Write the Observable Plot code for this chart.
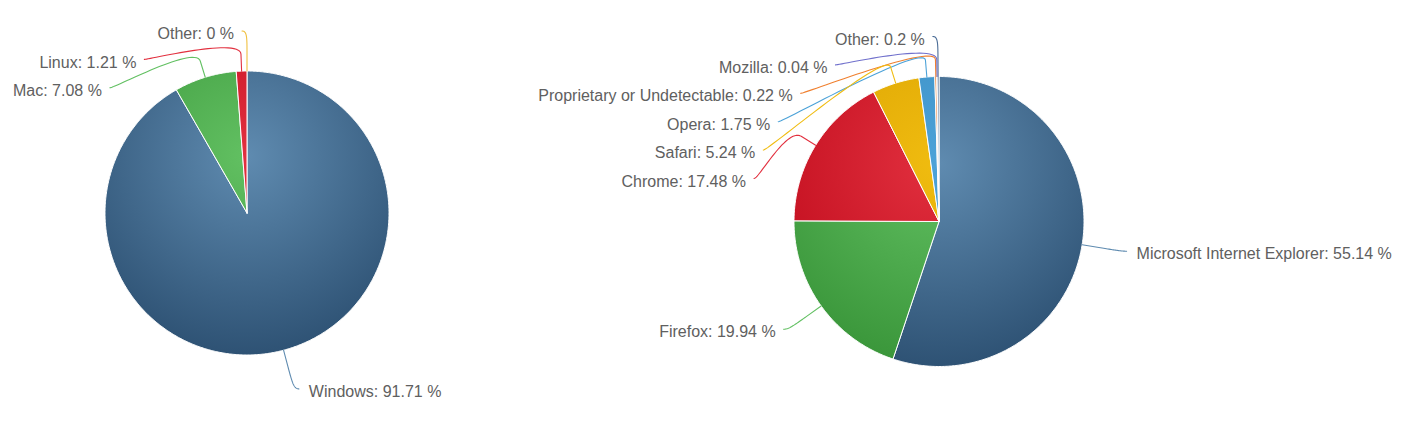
<!DOCTYPE html>
<html>
<head>
<meta charset="utf-8">
<script src="https://cdn.jsdelivr.net/npm/d3@7"></script>
<script src="https://cdn.jsdelivr.net/npm/@observablehq/plot@0.6"></script>
<style>
  html, body { margin: 0; padding: 0; background: #ffffff; }
</style>
</head>
<body>
<div id="chart"></div>
<script>
// ---- data ----
const osNames = ["Windows", "Mac", "Linux", "Other"];
const osShares = [91.71, 7.08, 1.21, 0];

const browserNames = ["Microsoft Internet Explorer", "Firefox", "Chrome", "Safari", "Opera",
  "Proprietary or Undetectable", "Mozilla", "Other"];
const browserShares = [55.14, 19.94, 17.48, 5.24, 1.75, 0.22, 0.04, 0.2];

// ---- styles ----
const osLight = ["#5f8bb0", "#62c062", "#e2303f", "#f0c040"];
const osDark = ["#2e5274", "#3a963a", "#c00c1c", "#d9a000"];
const browserLight = ["#5f8bb0", "#62c062", "#e2303f", "#f0bc10", "#4ca2d8", "#f08030", "#7070cc", "#4a6c96"];
const browserDark = ["#2e5274", "#3a963a", "#c00c1c", "#d9a000", "#3a8cc0", "#d86a1c", "#5858b0", "#2d4a70"];

const W = 1402, H = 423;
const pies = [
  {names: osNames, values: osShares, light: osLight, dark: osDark, cx: 246.5, cy: 212.5, r: 142},
  {names: browserNames, values: browserShares, light: browserLight, dark: browserDark, cx: 938.5, cy: 221, r: 145}
];

const slicePts = [], connPts = [], labelsL = [], labelsR = [], grads = [];
const slotH = 28.4, labelDist = 40, breakOff = 17;

pies.forEach((p, pi) => {
  const arcs = d3.pie().sort(null).value(d => d)(p.values);
  const R = p.r + labelDist;
  // slices
  arcs.forEach((a, i) => {
    const id = `s${pi}-${i}`;
    grads.push({id: "g" + id, c0: p.light[i], c1: p.dark[i], cx: p.cx, cy: p.cy - 0.4 * p.r, r: 1.4 * p.r});
    if (a.endAngle - a.startAngle <= 0) return;
    const fill = `url(#g${id})`;
    const n = Math.max(2, Math.ceil((a.endAngle - a.startAngle) / 0.01));
    slicePts.push({id, x: p.cx, y: p.cy, fill});
    for (let k = 0; k <= n; k++) {
      const t = a.startAngle + (a.endAngle - a.startAngle) * k / n - Math.PI / 2;
      slicePts.push({id, x: p.cx + p.r * Math.cos(t), y: p.cy + p.r * Math.sin(t), fill});
    }
    slicePts.push({id, x: p.cx, y: p.cy, fill});
  });
  // labels
  const items = arcs.map((a, i) => {
    const mid = (a.startAngle + a.endAngle) / 2;
    const th = mid - Math.PI / 2;
    return {i, th, left: mid > Math.PI, ny: p.cy + R * Math.sin(th)};
  });
  for (const left of [true, false]) {
    const half = items.filter(d => d.left === left).sort((a, b) => a.ny - b.ny);
    let prev = -Infinity;
    const top = p.cy - R;
    half.forEach((d, k) => {
      const y = Math.max(d.ny, top, prev + slotH);
      prev = y;
      const yy = k === 0 ? d.ny : y;
      const q = Math.max(-1, Math.min(1, (yy - p.cy) / R));
      const dx = Math.cos(Math.asin(q)) * R;
      const x = p.cx + (left ? -dx : dx);
      const sx = x + (left ? -5 : 5);
      const ex = p.cx + p.r * Math.cos(d.th), ey = p.cy + p.r * Math.sin(d.th);
      const bx = p.cx + (p.r + breakOff) * Math.cos(d.th), by = p.cy + (p.r + breakOff) * Math.sin(d.th);
      const c2x = 2 * bx - ex, c2y = 2 * by - ey;
      const cid = `c${pi}-${d.i}`;
      const col = p.light[d.i];
      const N = 30;
      for (let k2 = 0; k2 <= N; k2++) {
        const t = k2 / N, u = 1 - t;
        const px = u*u*u*sx + 3*u*u*t*x + 3*u*t*t*c2x + t*t*t*bx;
        const py = u*u*u*y + 3*u*u*t*y + 3*u*t*t*c2y + t*t*t*by;
        connPts.push({id: cid, x: px, y: py, stroke: col});
      }
      connPts.push({id: cid, x: ex, y: ey, stroke: col});
      const text = `${p.names[d.i]}: ${p.values[d.i]} %`;
      if (left) labelsL.push({x: sx - 8, y, text});
      else labelsR.push({x: sx + 10, y, text});
    });
  }
});

const font = "Liberation Sans, Arial, Helvetica, sans-serif";
const svg = Plot.plot({
  width: W,
  height: H,
  margin: 0,
  x: {domain: [0, W], range: [0, W], axis: null},
  y: {domain: [0, H], range: [0, H], axis: null},
  color: {type: "identity"},
  style: {background: "#ffffff"},
  marks: [
    Plot.line(slicePts, {x: "x", y: "y", z: "id", fill: "fill", stroke: "#ffffff", strokeWidth: 1, strokeLinejoin: "round", curve: "linear"}),
    Plot.line(connPts, {x: "x", y: "y", z: "id", stroke: "stroke", strokeWidth: 1.1, curve: "linear"}),
    Plot.text(labelsL, {x: "x", y: "y", text: "text", textAnchor: "end", dy: 3, fontSize: 16, fontFamily: font, fill: "#606060"}),
    Plot.text(labelsR, {x: "x", y: "y", text: "text", textAnchor: "start", dy: 3, fontSize: 16, fontFamily: font, fill: "#606060"})
  ]
});

const defs = d3.select(svg).insert("defs", ":first-child");
grads.forEach(g => {
  const rg = defs.append("radialGradient")
    .attr("id", g.id)
    .attr("gradientUnits", "userSpaceOnUse")
    .attr("cx", g.cx).attr("cy", g.cy).attr("r", g.r);
  rg.append("stop").attr("offset", 0).attr("stop-color", g.c0);
  rg.append("stop").attr("offset", 1).attr("stop-color", g.c1);
});

document.getElementById("chart").appendChild(svg);
</script>
</body>
</html>
